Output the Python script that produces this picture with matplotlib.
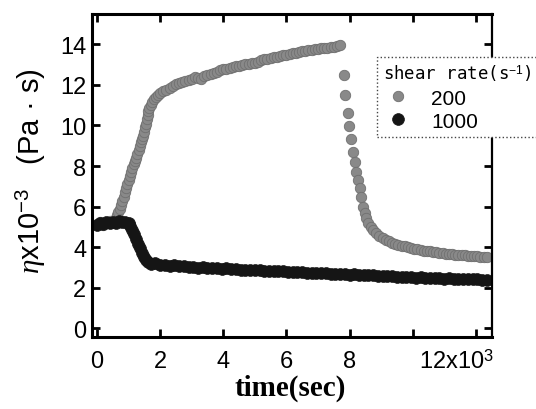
import matplotlib
matplotlib.use("Agg")
import matplotlib.pyplot as plt
import matplotlib.transforms as mtransforms
from matplotlib import font_manager

# narrow sans like the original, if it is there
try:
    font_manager.findfont(font_manager.FontProperties(family='Liberation Sans Narrow'),
                          fallback_to_default=False)
    base_font, tick_size = 'Liberation Sans Narrow', 18
except ValueError:
    base_font, tick_size = 'Liberation Sans', 17

plt.rcParams['font.family'] = [base_font, 'Noto Sans CJK JP', 'DejaVu Sans']
plt.rcParams['mathtext.fontset'] = 'custom'
plt.rcParams['mathtext.rm'] = base_font
plt.rcParams['mathtext.it'] = 'Liberation Serif:italic'

# time in units of 10^3 s, viscosity in units of 10^3 Pa s
t200 = [0.0, 0.1, 0.2, 0.3, 0.4, 0.5, 0.56, 0.6, 0.64, 0.68, 0.72, 0.76, 0.8, 0.84, 0.88,
        0.92, 0.96, 1.0, 1.04, 1.08, 1.12, 1.16, 1.2, 1.24, 1.28, 1.32, 1.36, 1.4, 1.43,
        1.46, 1.49, 1.52, 1.55, 1.57, 1.6, 1.63, 1.66, 1.7, 1.75, 1.8, 1.86, 1.93, 2.0,
        2.1, 2.2, 2.3, 2.4, 2.5, 2.6, 2.7, 2.8, 2.9, 3.0, 3.1, 3.2, 3.3, 3.4, 3.5, 3.6,
        3.7, 3.8, 3.9, 4.0, 4.1, 4.2, 4.3, 4.4, 4.5, 4.6, 4.7, 4.8, 4.9, 5.0, 5.1, 5.2,
        5.3, 5.4, 5.5, 5.6, 5.7, 5.8, 5.9, 6.0, 6.1, 6.2, 6.3, 6.4, 6.5, 6.6, 6.7, 6.8,
        6.9, 7.0, 7.1, 7.2, 7.3, 7.4, 7.5, 7.6, 7.7,
        7.82, 7.87, 7.95, 7.99, 8.06, 8.11, 8.17, 8.22, 8.27, 8.32, 8.37, 8.43, 8.48, 8.53,
        8.6, 8.68, 8.76, 8.85, 8.95, 9.05, 9.15, 9.25, 9.35, 9.45, 9.55, 9.65, 9.75, 9.85,
        9.95, 10.05, 10.15, 10.25, 10.35, 10.45, 10.55, 10.65, 10.75, 10.85, 10.95, 11.05,
        11.15, 11.25, 11.35, 11.45, 11.55, 11.65, 11.75, 11.85, 11.95, 12.05, 12.15, 12.25,
        12.35]
eta200 = [5.15, 5.25, 5.1, 5.2, 5.3, 5.3, 5.35, 5.45, 5.6, 5.75, 5.9, 6.1, 6.3, 6.5, 6.7,
          6.9, 7.1, 7.3, 7.5, 7.7, 7.9, 8.1, 8.25, 8.4, 8.6, 8.8, 9.0, 9.2, 9.35,
          9.5, 9.7, 9.9, 10.05, 10.3, 10.5, 10.7, 10.85, 11.0, 11.15, 11.3, 11.4, 11.5, 11.6,
          11.7, 11.75, 11.85, 11.95, 12.05, 12.1, 12.15, 12.2, 12.25, 12.3, 12.4, 12.35, 12.3, 12.45, 12.5, 12.55,
          12.6, 12.65, 12.75, 12.8, 12.8, 12.85, 12.9, 12.95, 12.95, 13.0, 13.05, 13.05, 13.1, 13.1, 13.15, 13.2,
          13.25, 13.25, 13.3, 13.35, 13.35, 13.4, 13.45, 13.45, 13.5, 13.55, 13.55, 13.6, 13.65, 13.65, 13.7, 13.72,
          13.75, 13.75, 13.8, 13.8, 13.82, 13.85, 13.87, 13.9, 13.95,
          12.5, 11.5, 10.6, 9.95, 9.35, 8.7, 8.2, 7.7, 7.3, 6.9, 6.5, 6.0, 5.7, 5.45,
          5.2, 5.0, 4.85, 4.7, 4.55, 4.45, 4.38, 4.3, 4.22, 4.17, 4.12, 4.08, 4.04, 4.0,
          3.97, 3.93, 3.9, 3.87, 3.84, 3.82, 3.8, 3.77, 3.75, 3.73, 3.71, 3.69,
          3.67, 3.65, 3.64, 3.62, 3.61, 3.6, 3.58, 3.57, 3.56, 3.55, 3.54, 3.53,
          3.52]

t1000 = [0.0, 0.1, 0.2, 0.3, 0.4, 0.5, 0.6, 0.7, 0.8, 0.9, 1.0, 1.06, 1.12, 1.18, 1.24,
         1.3, 1.36, 1.42, 1.48, 1.54, 1.6, 1.7, 1.85, 2.0, 2.15, 2.3, 2.45, 2.6, 2.75, 2.9,
         3.05, 3.2, 3.35, 3.5, 3.65, 3.8, 3.95, 4.1, 4.25, 4.4, 4.55, 4.7, 4.85, 5.0, 5.15,
         5.3, 5.45, 5.6, 5.75, 5.9, 6.05, 6.2, 6.35, 6.5, 6.65, 6.8, 6.95, 7.1, 7.25, 7.4,
         7.55, 7.7, 7.85, 8.0, 8.15, 8.3, 8.45, 8.6, 8.75, 8.9, 9.05, 9.2, 9.35, 9.5, 9.65,
         9.8, 9.95, 10.1, 10.25, 10.4, 10.55, 10.7, 10.85, 11.0, 11.15, 11.3, 11.45, 11.6,
         11.75, 11.9, 12.05, 12.2, 12.35]
eta1000 = [5.1, 5.2, 5.15, 5.25, 5.2, 5.25, 5.2, 5.3, 5.25, 5.25, 5.2, 5.05, 4.85, 4.65, 4.4,
           4.15, 3.95, 3.7, 3.5, 3.35, 3.25, 3.2, 3.22, 3.15, 3.14, 3.1, 3.12, 3.07, 3.06, 3.04,
           3.05, 3.0, 3.01, 2.98, 2.99, 2.96, 2.95, 2.96, 2.92, 2.93, 2.9, 2.9, 2.88, 2.87, 2.88,
           2.85, 2.84, 2.84, 2.81, 2.81, 2.79, 2.8, 2.76, 2.77, 2.75, 2.73, 2.74, 2.71, 2.72, 2.69,
           2.69, 2.67, 2.67, 2.65, 2.66, 2.63, 2.63, 2.61, 2.62, 2.59, 2.59, 2.57, 2.58, 2.55, 2.56,
           2.53, 2.53, 2.51, 2.52, 2.49, 2.5, 2.48, 2.48, 2.46, 2.47, 2.45, 2.45, 2.44,
           2.43, 2.43, 2.42, 2.4, 2.39]

xticks = [0, 2, 4, 6, 8, 10, 12]
xlabels = ['0', '2', '4', '6', '8', '', '12x10$^3$']
yticks = [0, 2, 4, 6, 8, 10, 12, 14]

fig = plt.figure(figsize=(5.36, 4.10), dpi=100)
ax = fig.add_axes([0.1716, 0.1756, 0.746, 0.7878])

ax.plot(t200, eta200, 'o', ms=7.5, color='#898989', mec='#707070', mew=0.6, label='200')
ax.plot(t1000, eta1000, 'o', ms=8.5, color='#151515', mec='#151515', mew=0.5, label='1000')

ax.set_xlim(-0.16, 12.51)
ax.set_ylim(-0.42, 15.49)
ax.set_xticks(xticks)
ax.set_xticklabels(xlabels)
ax.set_yticks(yticks)

for s in ax.spines.values():
    s.set_linewidth(2.2)
ax.spines['right'].set_linewidth(1.6)
ax.tick_params(direction='in', top=True, right=True, length=6, width=2, labelsize=tick_size)
ax.tick_params(axis='y', pad=4)
ax.tick_params(axis='x', pad=9)

# shift the last x label left like the original
lab = ax.get_xticklabels()[-1]
lab.set_transform(lab.get_transform() + mtransforms.ScaledTranslation(-14 / 72, 0, fig.dpi_scale_trans))

ax.set_xlabel('time(sec)', family='Liberation Serif', fontweight='bold', fontsize=21)
ax.xaxis.set_label_coords(0.495, -0.115)
ax.set_ylabel('$\\eta$x10$^{-3}$   (Pa · s)', fontsize=21)
ax.yaxis.set_label_coords(-0.11, 0.515)

leg = ax.legend(title='shear rate(s$^{-1}$)', loc='upper left', bbox_to_anchor=(0.7125, 0.867),
                frameon=True, fancybox=False, borderaxespad=0, fontsize=15,
                handletextpad=0.9, labelspacing=0.2, borderpad=0.3, markerscale=1.0,
                handlelength=1.4)
leg.get_title().set_family('DejaVu Sans Mono')
leg.get_title().set_fontsize(12.5)
leg._legend_box.align = 'left'
frame = leg.get_frame()
frame.set_edgecolor('#444444')
frame.set_linewidth(1.0)
frame.set_linestyle(':')
frame.set_alpha(1)

fig.savefig('out.png', dpi=100)
